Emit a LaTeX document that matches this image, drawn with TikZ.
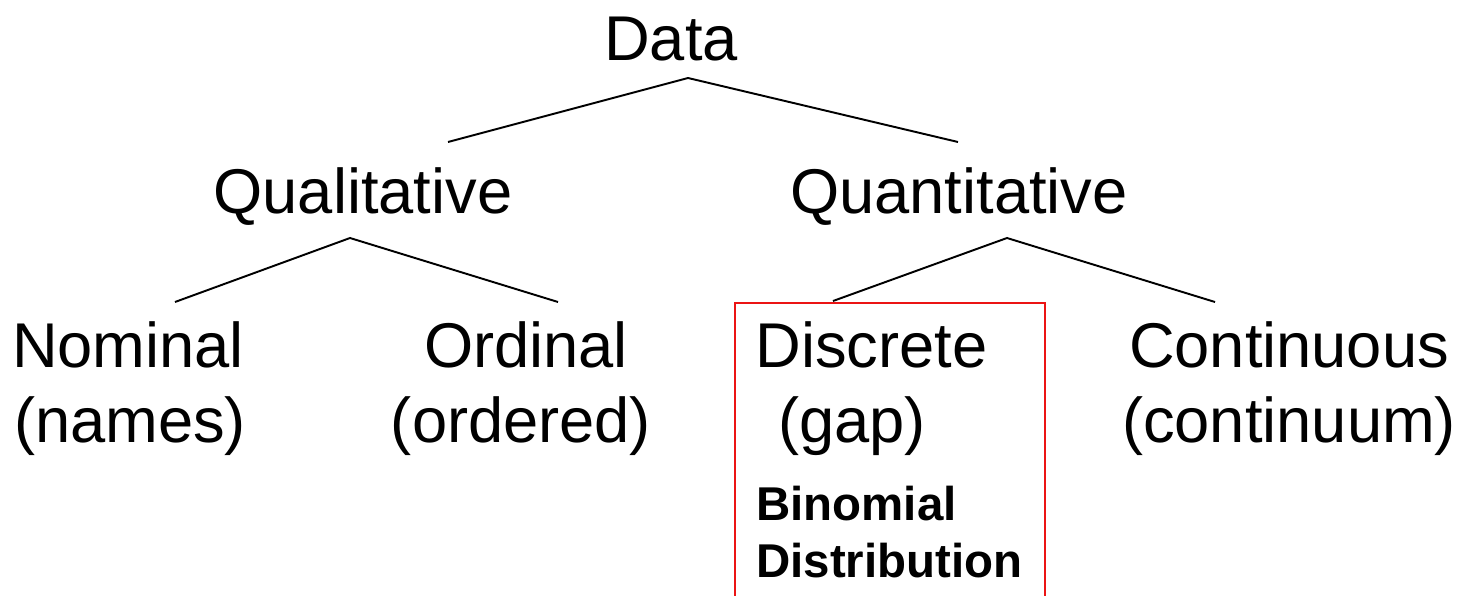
\documentclass[tikz,border=0pt]{standalone}
\usepackage{fontspec}
\setmainfont{Liberation Sans}
\usepackage{xcolor}
\usetikzlibrary{positioning, calc}
\definecolor{boxRed}{RGB}{235, 20, 20}

\begin{document}
\begin{tikzpicture}[x=0.02cm, y=-0.02cm]
    \tikzstyle{label} = [inner sep=0pt, anchor=base, font=\fontsize{36}{43}\selectfont]
    \tikzstyle{labelL} = [label, anchor=base west]
    \tikzstyle{note} = [inner sep=0pt, anchor=base west, font=\fontsize{27}{32}\selectfont\bfseries]
    \tikzstyle{branch} = [line width=1.1pt, black]

    \useasboundingbox (0,0) rectangle (1466,595);

    % levels of the tree
    \node[label] (data) at (671,60) {Data};
    \node[label] (qual) at (363,213) {Qualitative};
    \node[label] (quant) at (959,213) {Quantitative};

    \node[label] (nom) at (128,367) {Nominal};
    \node[label] (nom2) at (130,442) {(names)};
    \node[label] (ord) at (526,367) {Ordinal};
    \node[label] (ord2) at (521,442) {(ordered)};
    \node[labelL] (disc) at (755,367) {Discrete};
    \node[labelL] (disc2) at (778,442) {(gap)};
    \node[label] (cont) at (1289,367) {Continuous};
    \node[label] (cont2) at (1289,442) {(continuum)};

    \node[note] (binom) at (756,520) {Binomial};
    \node[note] (binom2) at (756,577) {Distribution};

    % forks
    \coordinate (dataFork) at (688,78);
    \coordinate (qualEnd) at (448,142);
    \coordinate (quantEnd) at (958,142);
    \coordinate (qualFork) at (350,238);
    \coordinate (nomEnd) at (175,302);
    \coordinate (ordEnd) at (558,302);
    \coordinate (quantFork) at (1007,238);
    \coordinate (discEnd) at (833,301);
    \coordinate (contEnd) at (1215,302);

    \draw[branch] (qualEnd) -- (dataFork) -- (quantEnd);
    \draw[branch] (nomEnd) -- (qualFork) -- (ordEnd);
    \draw[branch] (discEnd) -- (quantFork) -- (contEnd);

    % highlight box
    \draw[boxRed, line width=1.1pt] (735,610) -- (735,303) -- (1045,303) -- (1045,610);
\end{tikzpicture}
\end{document}
